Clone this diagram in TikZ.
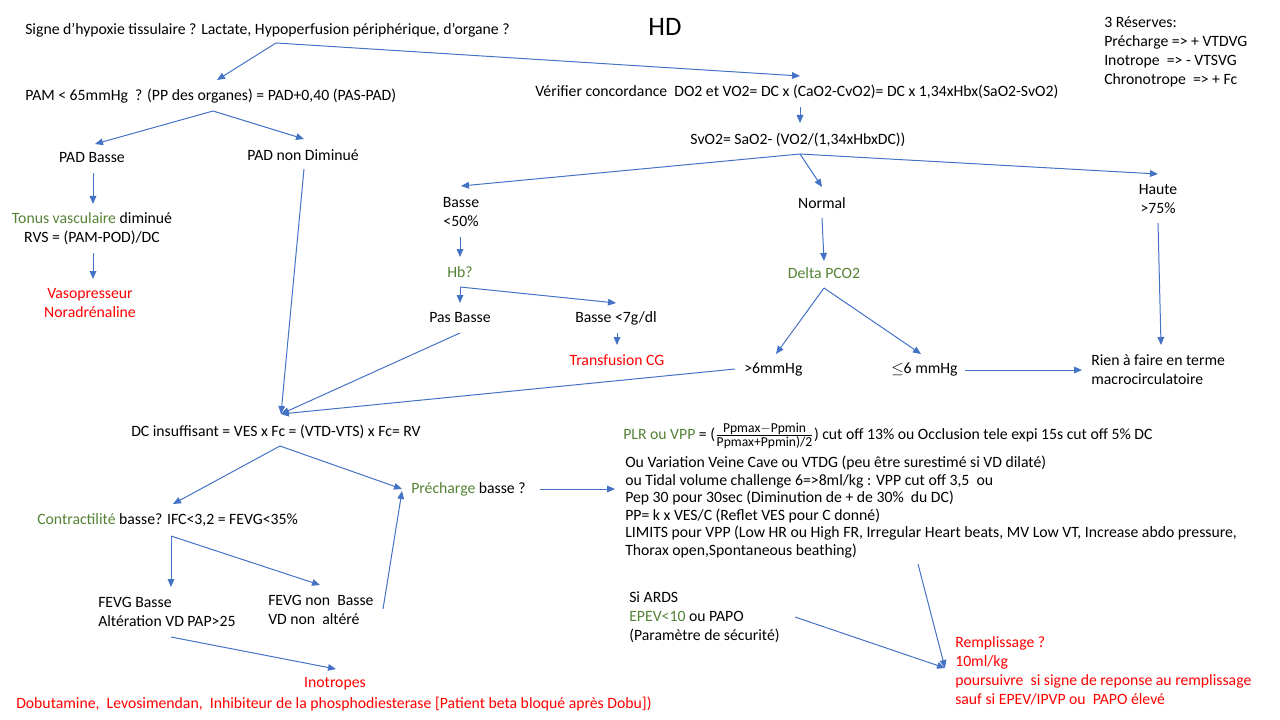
\documentclass[tikz,border=0pt]{standalone}
\usepackage{fontspec}
\setmainfont{Carlito}
\usetikzlibrary{arrows.meta}

\definecolor{arrowblue}{HTML}{4472C4}
\definecolor{txtgreen}{HTML}{548235}
\definecolor{txtred}{HTML}{FF0000}

\newcommand{\fracfont}{\fontsize{10.2}{12}\selectfont}

\begin{document}
\begin{tikzpicture}
    [
      x=0.75pt,y=-0.75pt,
      every node/.style={inner sep=0pt,font=\fontsize{11.8}{14.25}\selectfont},
      lbl/.style={anchor=west,align=left},
      clbl/.style={align=center},
      transition/.style={-{Stealth[length=6pt,width=5pt,inset=0pt]},line width=0.75pt,draw=arrowblue}
    ]

    \useasboundingbox (0,0) rectangle (1280,720);

    % top
    \node at (25,30) [lbl] (signe) {Signe d’hypoxie tissulaire ? Lactate, Hypoperfusion périphérique,\ d’organe ?};
    \node at (665,27) [font=\fontsize{20}{24}\selectfont] (hd) {HD};
    \node at (1104,52) [lbl] (reserves) {3 Réserves:\\Précharge => + VTDVG\\Inotrope \ => - VTSVG\\Chronotrope \ => + Fc};

    \node at (25,96) [lbl] (pam) {PAM < 65mmHg \ ? (PP des organes) = PAD+0,40 (PAS-PAD)};
    \node at (535,92) [lbl] (verif) {Vérifier concordance \ DO2 et VO2= DC x (CaO2-CvO2)= DC x 1,34xHbx(SaO2-SvO2)};
    \node at (798,140) (svo) {SvO2= SaO2- (VO2/(1,34xHbxDC))};

    % left branch
    \node at (92,158) (padb) {PAD Basse};
    \node at (247,155) [lbl] (padn) {PAD non Diminué};
    \node at (92,228.5) [clbl] (tonus) {\textcolor{txtgreen}{Tonus vasculaire} diminué\\RVS = (PAM-POD)/DC};
    \node at (90,303.5) [clbl,text=txtred] (vaso) {Vasopresseur\\Noradrénaline};

    % SvO2 branch
    \node at (461,212) [clbl] (basse) {Basse\\<50\%};
    \node at (460,272) [text=txtgreen] (hb) {Hb?};
    \node at (460,318) (pas) {Pas Basse};
    \node at (616,318) (bas7) {Basse <7g/dl};
    \node at (617,360) [text=txtred] (transf) {Transfusion CG};
    \node at (822,203) (normal) {Normal};
    \node at (824,273) [text=txtgreen] (delta) {Delta PCO2};
    \node at (744,370) [lbl] (sup6) {>6mmHg};
    \node at (891,370) [lbl] (inf6) {$\leq$6 mmHg};
    \node at (1158,199) [clbl] (haute) {Haute\\>75\%};
    \node at (1091,369.5) [lbl] (rien) {Rien à faire en terme\\macrocirculatoire};

    % DC branch
    \node at (131,432) [lbl] (dc) {DC insuffisant = VES x Fc = (VTD-VTS) x Fc= RV};
    \node at (411,489) [lbl] (prech) {\textcolor{txtgreen}{Précharge} basse ?};
    \node at (37,520) [lbl] (contr) {\textcolor{txtgreen}{Contractilité} basse? IFC<3,2 = FEVG<35\%};
    \node at (98,611.5) [lbl] (fevgb) {FEVG Basse\\Altération VD PAP>25};
    \node at (268,609.5) [lbl] (fevgn) {FEVG non \ Basse\\VD non \ altéré};
    \node at (335,684) [text=txtred] (ino) {Inotropes};
    \node at (16,704) [lbl,text=txtred] (dobu) {Dobutamine, \ Levosimendan, \ Inhibiteur de la phosphodiesterase [Patient beta bloqué après Dobu])};

    % right block
    \node at (623,436) [lbl] (plr) {\textcolor{txtgreen}{PLR ou VPP} = ($\frac{\mbox{\fracfont Ppmax$-$Ppmin}}{\mbox{\fracfont Ppmax+Ppmin)/2}}$) cut off 13\% ou Occlusion tele expi 15s cut off 5\% DC};
    \node at (625,507) [lbl,font=\fontsize{11.8}{13.2}\selectfont] (tests) {Ou Variation Veine Cave ou VTDG (peu être surestimé si VD dilaté)\\ou Tidal volume challenge 6=>8ml/kg : VPP cut off 3,5 \ ou\\Pep 30 pour 30sec (Diminution de + de 30\% \ du DC)\\PP= k x VES/C (Reflet VES pour C donné)\\LIMITS pour VPP (Low HR ou High FR, Irregular Heart beats, MV Low VT, Increase abdo pressure,\\Thorax open,Spontaneous beathing)};
    \node at (629,617) [lbl] (ards) {Si ARDS\\\textcolor{txtgreen}{EPEV<10} ou PAPO\\(Paramètre de sécurité)};
    \node at (955,670.5) [lbl,text=txtred] (rempl) {Remplissage ?\\10ml/kg\\poursuivre \ si signe de reponse au remplissage\\sauf si EPEV/IPVP ou \ PAPO élevé};

    % connector ends
    \coordinate (signe-o) at (276,43);   \coordinate (pam-i) at (217,80);    \coordinate (verif-i) at (800,76);
    \coordinate (pam-o) at (213,111);    \coordinate (padb-i) at (95,144);   \coordinate (padn-i) at (304,139);
    \coordinate (padb-o) at (93,173);    \coordinate (tonus-i) at (93,204);
    \coordinate (tonus-o) at (93,253);   \coordinate (vaso-i) at (93,279);
    \coordinate (padn-o) at (304,169);   \coordinate (dc-i) at (281,414);
    \coordinate (verif-o) at (800,107);  \coordinate (svo-i) at (800,123);
    \coordinate (svo-o) at (800,154);    \coordinate (basse-i) at (461,186);
    \coordinate (normal-i) at (822,187); \coordinate (haute-i) at (1158,174);
    \coordinate (basse-o) at (460,237);  \coordinate (hb-i) at (460,257);
    \coordinate (hb-o) at (460,287);     \coordinate (pas-i) at (460,303);   \coordinate (bas7-i) at (616,303);
    \coordinate (bas7-o) at (617,333);   \coordinate (transf-i) at (617,345);
    \coordinate (pas-o) at (460,333);
    \coordinate (normal-o) at (822,218); \coordinate (delta-i) at (824,261);
    \coordinate (delta-o) at (824,288);  \coordinate (sup6-i) at (776,354);  \coordinate (inf6-i) at (921,354);
    \coordinate (sup6-o) at (735,369);
    \coordinate (inf6-o) at (965,370);   \coordinate (rien-i) at (1082,370);
    \coordinate (haute-o) at (1158,223); \coordinate (rien-t) at (1161,345);
    \coordinate (dc-o) at (280,446);     \coordinate (contr-i) at (173,504); \coordinate (prech-i) at (402,489);
    \coordinate (prech-o) at (540,489);  \coordinate (tests-i) at (615,489);
    \coordinate (contr-o) at (171,536);  \coordinate (fevgb-i) at (171,587); \coordinate (fevgn-i) at (320,585);
    \coordinate (fevgn-o) at (383,609);  \coordinate (prech-b) at (402,491);
    \coordinate (fevgb-o) at (171,637);  \coordinate (ino-i) at (336,669);
    \coordinate (tests-o) at (918,564);  \coordinate (rempl-i) at (945,668);
    \coordinate (ards-o) at (795,617);

    \foreach \a/\b in {signe-o/pam-i,signe-o/verif-i,pam-o/padb-i,pam-o/padn-i,
      padb-o/tonus-i,tonus-o/vaso-i,padn-o/dc-i,verif-o/svo-i,
      svo-o/basse-i,svo-o/normal-i,svo-o/haute-i,basse-o/hb-i,
      hb-o/pas-i,hb-o/bas7-i,bas7-o/transf-i,pas-o/dc-i,
      normal-o/delta-i,delta-o/sup6-i,delta-o/inf6-i,sup6-o/dc-i,
      inf6-o/rien-i,haute-o/rien-t,dc-o/contr-i,dc-o/prech-i,
      prech-o/tests-i,contr-o/fevgb-i,contr-o/fevgn-i,fevgn-o/prech-b,
      fevgb-o/ino-i,tests-o/rempl-i,ards-o/rempl-i}
      \draw [transition] (\a) -- (\b);
  \end{tikzpicture}
\end{document}
